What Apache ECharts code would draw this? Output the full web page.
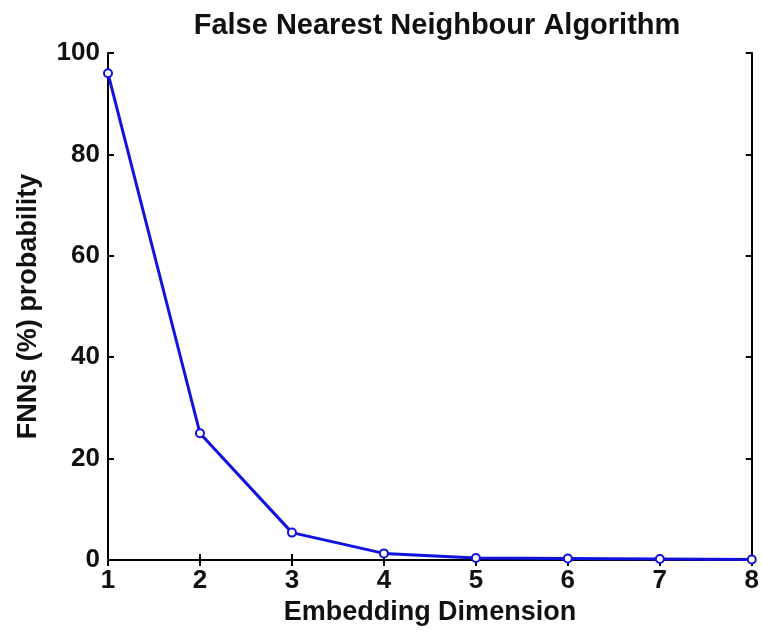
<!DOCTYPE html>
<html>
<head>
<meta charset="utf-8">
<script src="https://cdn.jsdelivr.net/npm/echarts@6/dist/echarts.min.js"></script>
<style>html,body{margin:0;padding:0;background:#fff;}#c{width:762px;height:634px;}</style>
</head>
<body>
<div id="c"></div>
<script>
var titleText = 'False Nearest Neighbour Algorithm';
var xName = 'Embedding Dimension';
var yName = 'FNNs (%) probability';
var dims = [1, 2, 3, 4, 5, 6, 7, 8];
var fnn = [96, 25, 5.4, 1.3, 0.4, 0.3, 0.2, 0.1];

var chart = echarts.init(document.getElementById('c'), null, {renderer: 'canvas'});
var fontFam = 'Liberation Sans, Arial, Helvetica, sans-serif';
var axisLine = {show: true, lineStyle: {color: '#000', width: 2}};
var axisTick = {show: true, inside: true, length: 6, lineStyle: {color: '#000', width: 2}};
var lbl = {color: '#111', fontSize: 26, fontWeight: 'bold', fontFamily: fontFam};
chart.setOption({
  animation: false,
  backgroundColor: '#fff',
  title: {
    text: titleText, left: 432, top: 6, textAlign: 'center',
    textStyle: {fontSize: 29, fontWeight: 'bold', color: '#111', fontFamily: fontFam}
  },
  grid: {left: 108, right: 3, top: 53, bottom: 74, containLabel: false},
  xAxis: [{
    type: 'value', min: 1, max: 8, interval: 1, position: 'bottom',
    name: xName, nameLocation: 'middle', nameGap: 34,
    nameTextStyle: {fontSize: 27, fontWeight: 'bold', color: '#111', fontFamily: fontFam},
    axisLine: axisLine, axisTick: axisTick, splitLine: {show: false},
    axisLabel: Object.assign({margin: 8}, lbl)
  }, {
    type: 'value', min: 1, max: 8, interval: 1, position: 'top',
    axisLine: axisLine, axisTick: axisTick, splitLine: {show: false},
    axisLabel: {show: false}
  }],
  yAxis: [{
    type: 'value', min: 0, max: 100, interval: 20, position: 'left',
    name: yName, nameLocation: 'middle', nameGap: 66,
    nameTextStyle: {fontSize: 27, fontWeight: 'bold', color: '#111', fontFamily: fontFam},
    axisLine: axisLine, axisTick: axisTick, splitLine: {show: false},
    axisLabel: Object.assign({margin: 8}, lbl)
  }, {
    type: 'value', min: 0, max: 100, interval: 20, position: 'right',
    axisLine: axisLine, axisTick: axisTick, splitLine: {show: false},
    axisLabel: {show: false}
  }],
  series: [{
    type: 'line',
    data: dims.map(function (d, i) { return [d, fnn[i]]; }),
    lineStyle: {color: '#1212e0', width: 3},
    itemStyle: {color: '#1212e0', borderColor: '#1010b0', borderWidth: 2},
    symbol: 'emptyCircle', symbolSize: 8,
    clip: false,
    z: 5
  }]
});
</script>
</body>
</html>
